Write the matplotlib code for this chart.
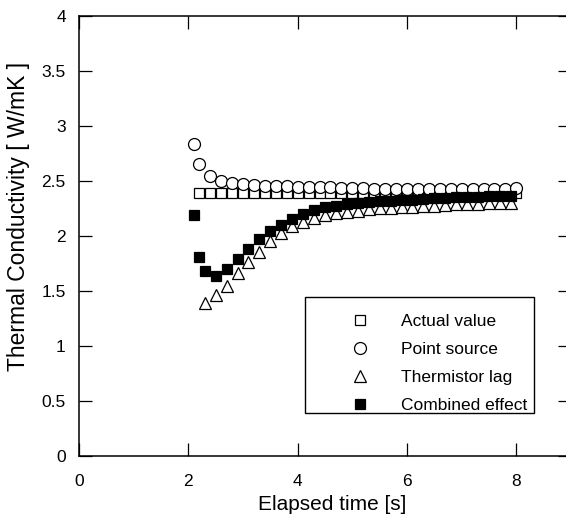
import matplotlib
matplotlib.use("Agg")
import matplotlib.pyplot as plt
from matplotlib.lines import Line2D
from matplotlib.patches import Rectangle

plt.rcParams["font.family"] = ["Liberation Sans", "DejaVu Sans"]

# actual value (open squares)
t_actual = [2.2, 2.4, 2.6, 2.8, 3.0, 3.2, 3.4, 3.6, 3.8, 4.0, 4.2, 4.4, 4.6, 4.8, 5.0,
            5.2, 5.4, 5.6, 5.8, 6.0, 6.2, 6.4, 6.6, 6.8, 7.0, 7.2, 7.4, 7.6, 7.8, 8.0]
k_actual = [2.39] * len(t_actual)

# point source (open circles)
t_point = [2.1, 2.2, 2.4, 2.6, 2.8, 3.0, 3.2, 3.4, 3.6, 3.8, 4.0, 4.2, 4.4, 4.6, 4.8, 5.0,
           5.2, 5.4, 5.6, 5.8, 6.0, 6.2, 6.4, 6.6, 6.8, 7.0, 7.2, 7.4, 7.6, 7.8, 8.0]
k_point = [2.83, 2.65, 2.54, 2.50, 2.48, 2.47, 2.46, 2.455, 2.45, 2.45, 2.445, 2.44, 2.44,
           2.44, 2.435, 2.435, 2.435, 2.43, 2.43, 2.43, 2.43, 2.43, 2.43, 2.43, 2.43, 2.43,
           2.43, 2.43, 2.43, 2.43, 2.435]

# thermistor lag (open triangles)
t_lag = [2.3, 2.5, 2.7, 2.9, 3.1, 3.3, 3.5, 3.7, 3.9, 4.1, 4.3, 4.5, 4.7, 4.9, 5.1,
         5.3, 5.5, 5.7, 5.9, 6.1, 6.3, 6.5, 6.7, 6.9, 7.1, 7.3, 7.5, 7.7, 7.9]
k_lag = [1.39, 1.46, 1.545, 1.66, 1.76, 1.85, 1.95, 2.03, 2.09, 2.13, 2.165, 2.19, 2.21,
         2.22, 2.23, 2.24, 2.25, 2.255, 2.26, 2.265, 2.27, 2.275, 2.28, 2.285, 2.29,
         2.29, 2.295, 2.30, 2.30]

# combined effect (filled squares)
t_comb = [2.1, 2.2, 2.3, 2.5, 2.7, 2.9, 3.1, 3.3, 3.5, 3.7, 3.9, 4.1, 4.3, 4.5, 4.7, 4.9,
          5.1, 5.3, 5.5, 5.7, 5.9, 6.1, 6.3, 6.5, 6.7, 6.9, 7.1, 7.3, 7.5, 7.7, 7.9]
k_comb = [2.19, 1.81, 1.68, 1.64, 1.70, 1.79, 1.88, 1.97, 2.04, 2.10, 2.15, 2.20, 2.235,
          2.26, 2.27, 2.29, 2.30, 2.31, 2.315, 2.32, 2.327, 2.33, 2.335, 2.34, 2.345, 2.35,
          2.354, 2.357, 2.36, 2.363, 2.366]

labels = ["Actual value", "Point source", "Thermistor lag", "Combined effect"]
x_ticks = [0, 2, 4, 6, 8]
y_ticks = [0, 0.5, 1, 1.5, 2, 2.5, 3, 3.5, 4]
y_ticklabels = ["0", "0.5", "1", "1.5", "2", "2.5", "3", "3.5", "4"]

W, H = 566, 523
fig = plt.figure(figsize=(W / 100, H / 100), dpi=100)
ax_l, ax_r, ax_t, ax_b = 79, 571, 15.5, 456.3
ax = fig.add_axes([ax_l / W, (H - ax_b) / H, (ax_r - ax_l) / W, (ax_b - ax_t) / H])

ax.plot(t_actual, k_actual, "s", ms=6.5, mfc="white", mec="black", mew=0.9, ls="none")
ax.plot(t_point, k_point, "o", ms=8.6, mfc="white", mec="black", mew=0.9, ls="none")
ax.plot(t_lag, k_lag, "^", ms=8.5, mfc="white", mec="black", mew=0.9, ls="none")
ax.plot(t_comb, k_comb, "s", ms=7, mfc="black", mec="black", mew=0.9, ls="none")

ax.set_xlim(0, 9)
ax.set_ylim(0, 4)
ax.set_xticks(x_ticks)
ax.set_yticks(y_ticks)
ax.set_yticklabels(y_ticklabels)
ax.tick_params(direction="in", length=9.5, width=0.9, labelsize=12.5,
               top=True, right=True)
ax.tick_params(axis="x", pad=13)
ax.tick_params(axis="y", pad=9.5)
for sp in ax.spines.values():
    sp.set_linewidth(1.1)

# axis titles, placed where they sit in the original
ax.set_xlabel("Elapsed time [s]", fontsize=15)
ax.xaxis.set_label_coords((332.5 - ax_l) / (ax_r - ax_l), -(505 - ax_b) / (ax_b - ax_t),
                          transform=ax.transAxes)
ax.xaxis.label.set_va("center")
ax.set_ylabel("Thermal Conductivity [ W/mK ]", fontsize=16.5)
ax.yaxis.set_label_coords(-(ax_l - 19) / (ax_r - ax_l), (ax_b - 216) / (ax_b - ax_t),
                          transform=ax.transAxes)
ax.yaxis.label.set_va("center")

handles = [
    Line2D([], [], marker="s", ms=6.5, mfc="white", mec="black", mew=0.9, ls="none"),
    Line2D([], [], marker="o", ms=8.6, mfc="white", mec="black", mew=0.9, ls="none"),
    Line2D([], [], marker="^", ms=8.5, mfc="white", mec="black", mew=0.9, ls="none"),
    Line2D([], [], marker="s", ms=7, mfc="black", mec="black", mew=0.9, ls="none"),
]
# legend frame drawn separately so the rows can sit low in the box as in the original
box_l, box_r, box_t, box_b = 304.7, 534, 297, 412.7
ax.add_patch(Rectangle((box_l / W, 1 - box_b / H), (box_r - box_l) / W,
                       (box_b - box_t) / H, transform=fig.transFigure,
                       facecolor="white", edgecolor="black", lw=1.0, zorder=3,
                       clip_on=False))
leg = ax.legend(handles, labels, loc="upper left",
                bbox_to_anchor=(box_l / W, 1 - (box_t + 4) / H), bbox_transform=fig.transFigure,
                borderaxespad=0, fontsize=12.5, frameon=False,
                borderpad=0.75, labelspacing=0.74,
                handlelength=4.9, handletextpad=-0.1)
leg.set_zorder(5)

fig.savefig("out.png", dpi=100)
